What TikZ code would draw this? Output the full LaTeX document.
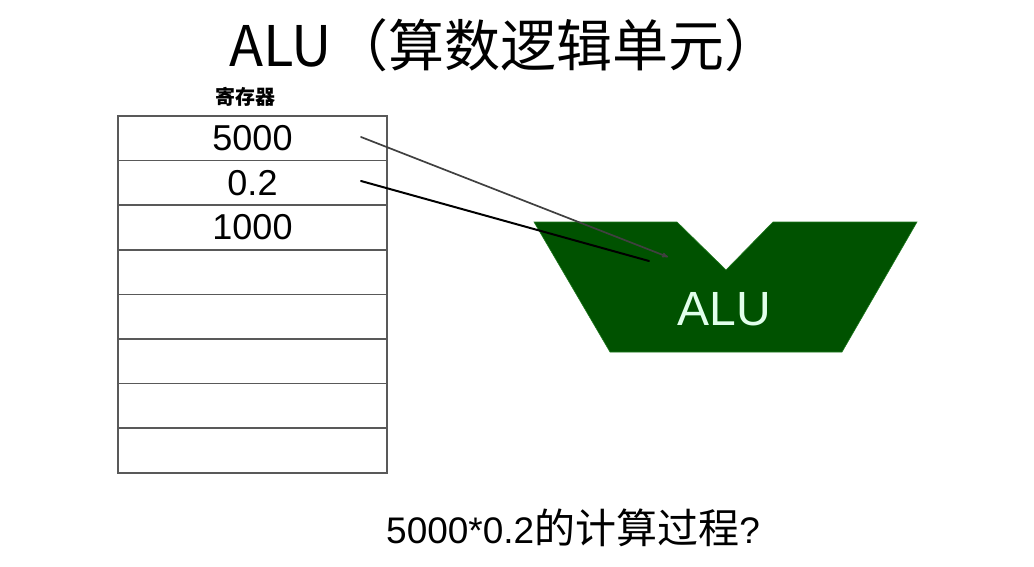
\documentclass[tikz,border=0pt]{standalone}
\usepackage{fontspec}
\setmainfont{Liberation Sans}
\newfontfamily\cjk{Noto Sans CJK SC}
\usepackage{tikz}
\usetikzlibrary{arrows.meta, positioning}
\tikzset{>=Stealth}
\definecolor{alugreen}{RGB}{0,82,0}
\definecolor{aluedge}{RGB}{30,120,30}
\definecolor{alutext}{RGB}{225,255,235}
\tikzset{
  regcell/.style={draw=black!65, line width=1.5pt, minimum width=269pt, minimum height=44.6pt,
    inner sep=0pt, outer sep=0pt, font=\fontsize{36}{40}\selectfont},
  feed/.style={line width=2pt, line cap=round}
}

\begin{document}
\begin{tikzpicture}[x=1pt, y=-1pt]
\useasboundingbox (0,0) rectangle (1034,567);

% title
\node [anchor=base west, inner sep=0pt] (title) at (229,67) {\cjk\fontsize{56}{60}\selectfont ALU（算数逻辑单元）};

% register file
\node [font=\cjk\bfseries\fontsize{20}{22}\selectfont] (reglabel) at (245,97) {寄存器};
\node [regcell] (r1) at (252.5,138.3) {5000};
\node [regcell] (r2) at (252.5,182.9) {0.2};
\node [regcell] (r3) at (252.5,227.5) {1000};
\node [regcell] (r4) at (252.5,272.1) {};
\node [regcell] (r5) at (252.5,316.7) {};
\node [regcell] (r6) at (252.5,361.3) {};
\node [regcell] (r7) at (252.5,405.9) {};
\node [regcell] (r8) at (252.5,450.5) {};

% ALU
\fill [alugreen, draw=aluedge, line width=0.6pt]
  (534,222) -- (677,222) -- (726,270) -- (773,222) -- (917,222)
  -- (842,352) -- (610,352) -- cycle;
\node [text=alutext, font=\fontsize{48}{50}\selectfont] (alu) at (724,309) {ALU};

% operands into the ALU
\coordinate (s1) at (361,137);
\coordinate (e1) at (668,257);
\coordinate (s2) at (361,181);
\coordinate (e2) at (649,261);
\draw [feed, black!75, line width=1.7pt, -{To[length=6pt,width=5pt]}] (s1) -- (e1);
\draw [feed, black] (s2) -- (e2);

% question
\node [anchor=base west, inner sep=0pt, font=\fontsize{37}{42}\selectfont] (question) at (386,543)
  {5000*0.2{\cjk\fontsize{41}{44}\selectfont 的计算过程}?};

\end{tikzpicture}
\end{document}
